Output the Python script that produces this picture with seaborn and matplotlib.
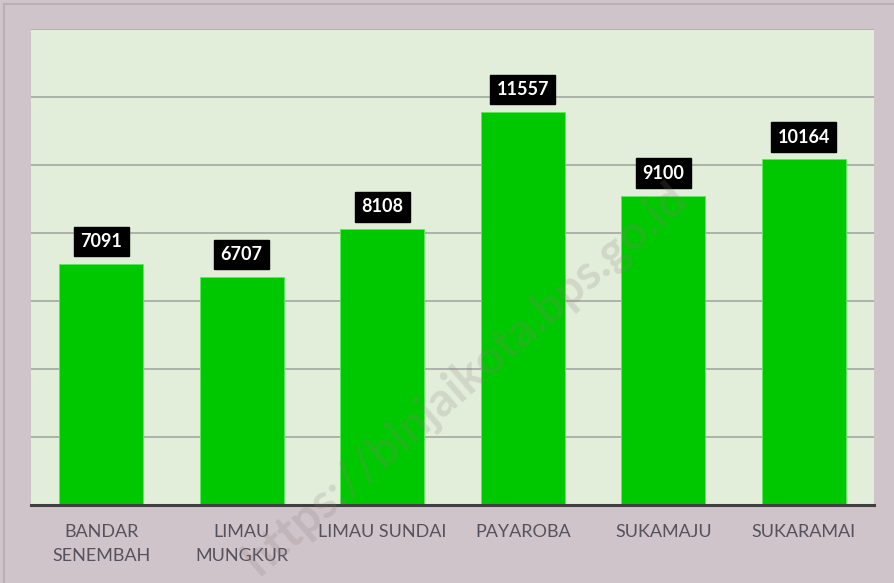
import matplotlib
matplotlib.use("Agg")
import matplotlib.pyplot as plt
import seaborn as sns
import pandas as pd
from matplotlib.patches import Rectangle

# Data
kelurahan = ["BANDAR\nSENEMBAH", "LIMAU\nMUNGKUR", "LIMAU SUNDAI",
             "PAYAROBA", "SUKAMAJU", "SUKARAMAI"]
jumlah = [7091, 6707, 8108, 11557, 9100, 10164]

df = pd.DataFrame({"kelurahan": kelurahan, "jumlah": jumlah})

sns.set_style("white")
plt.rcParams["font.family"] = ["Lato", "DejaVu Sans"]

W, H = 895, 583
fig = plt.figure(figsize=(W / 100, H / 100), dpi=100)
fig.patch.set_facecolor("#cfc4ca")

# thin outer frame (top/left)
fig.patches.append(Rectangle((4 / W, -0.1), 1.2, (H - 4) / H + 0.1,
                             transform=fig.transFigure, fill=False,
                             edgecolor="#b8b0b4", lw=1.5))

ax = fig.add_axes([31 / W, (H - 505) / H, 843 / W, 476 / H])
ax.set_facecolor("#e2eed9")

sns.barplot(data=df, x="kelurahan", y="jumlah", color="#00c800",
            width=0.6, saturation=1, edgecolor="#5fe85f", linewidth=0.6,
            ax=ax, zorder=3)

ax.set_ylim(0, 14000)
ax.set_yticks(range(0, 14001, 2000))
ax.yaxis.grid(True, color="#a3a8a0", lw=1.2)
ax.set_axisbelow(True)
ax.tick_params(axis="y", left=False, labelleft=False)
ax.tick_params(axis="x", bottom=False, pad=10, labelsize=13,
               labelcolor="#55525e")
for lbl in ax.get_xticklabels():
    lbl.set_linespacing(1.6)
ax.set_xlabel("")
ax.set_ylabel("")
for s in ["top", "right", "left"]:
    ax.spines[s].set_visible(False)
ax.spines["bottom"].set_color("#404040")
ax.spines["bottom"].set_linewidth(2.2)
ax.spines["bottom"].set_zorder(5)

ax.bar_label(ax.containers[0], padding=10, color="white",
             fontweight="bold", fontsize=13,
             bbox=dict(boxstyle="square,pad=0.35", fc="black", ec="black"))

# watermark
fig.text(0.52, 0.35, "https://binjaikota.bps.go.id", rotation=41,
         fontsize=34, fontweight="bold", color="#8a7a7a", alpha=0.2,
         ha="center", va="center", zorder=10)

fig.savefig("out.png", dpi=100, facecolor=fig.get_facecolor())
